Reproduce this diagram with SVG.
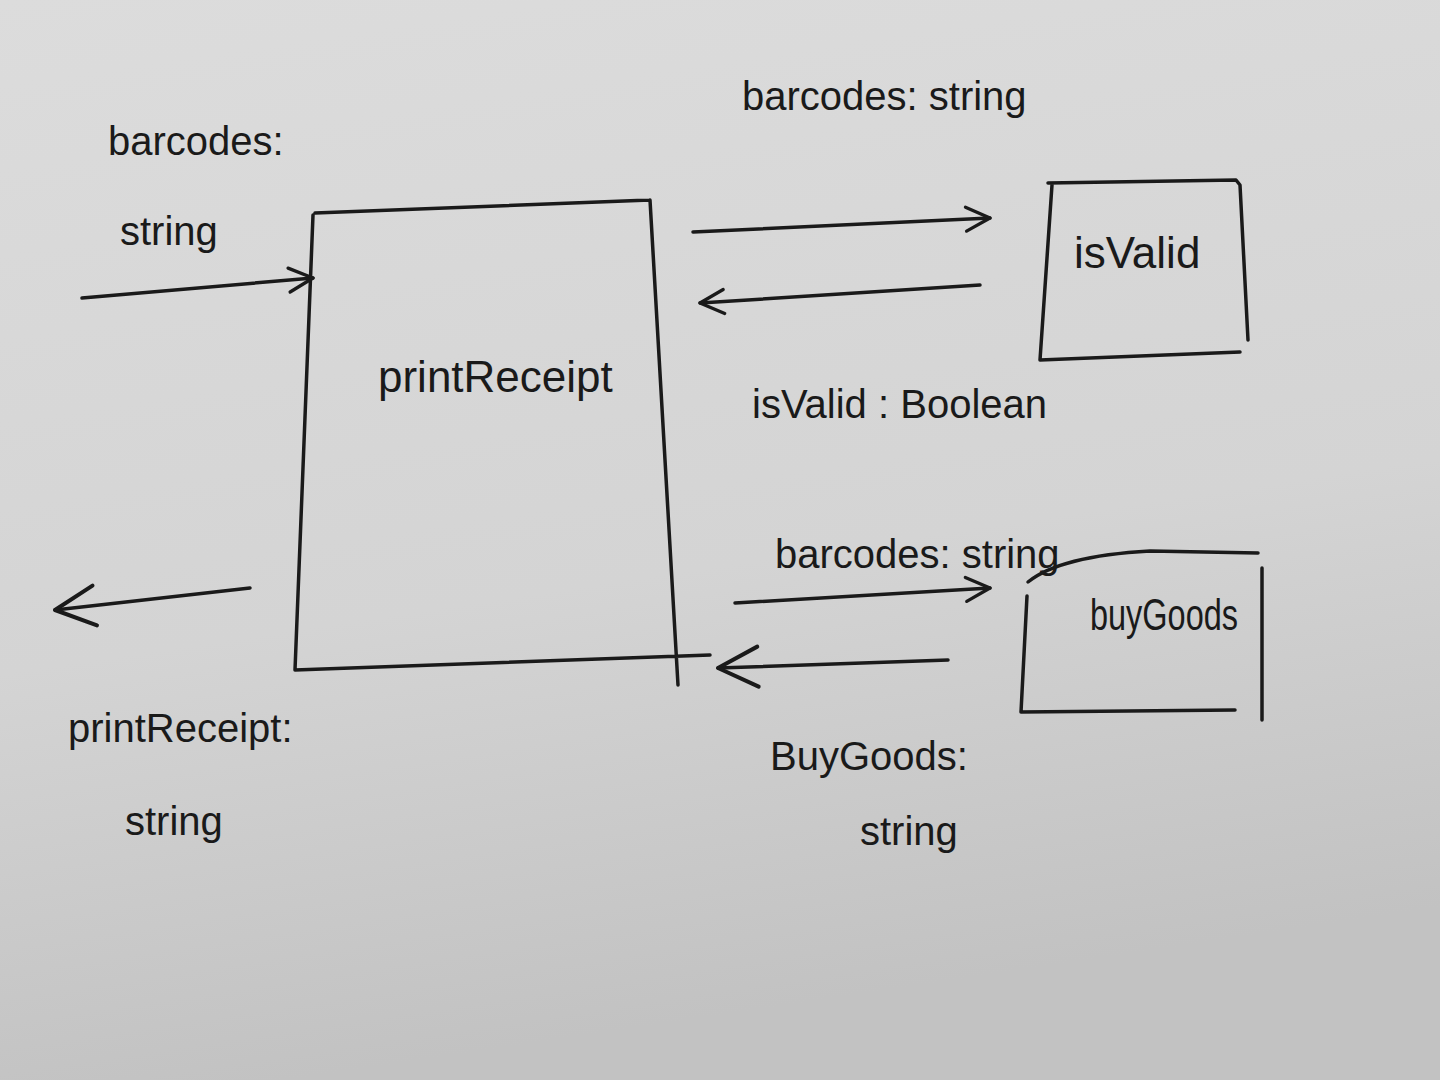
<svg xmlns="http://www.w3.org/2000/svg" width="1440" height="1080" viewBox="0 0 1440 1080">
<defs>
<linearGradient id="paper" x1="0" y1="0" x2="0.2" y2="1">
<stop offset="0" stop-color="#dcdcdc"/>
<stop offset="0.6" stop-color="#d4d4d4"/>
<stop offset="1" stop-color="#c2c2c2"/>
</linearGradient>
<marker id="open" viewBox="0 0 20 20" refX="18" refY="10" markerWidth="30" markerHeight="30" markerUnits="userSpaceOnUse" orient="auto">
<path d="M2,2 L18,10 L2,18" fill="none" stroke="#1a1a1a" stroke-width="2.2" stroke-linecap="round" stroke-linejoin="round"/>
</marker>
<marker id="openBig" viewBox="0 0 20 20" refX="18" refY="10" markerWidth="50" markerHeight="50" markerUnits="userSpaceOnUse" orient="auto">
<path d="M2,2 L18,10 L2,18" fill="none" stroke="#1a1a1a" stroke-width="1.6" stroke-linecap="round" stroke-linejoin="round"/>
</marker>
</defs>
<style>
.ln{fill:none;stroke:#1a1a1a;stroke-width:3.5;stroke-linecap:round;stroke-linejoin:round}
.t{font-family:"Liberation Sans","DejaVu Sans",sans-serif;fill:#1a1a1a}
.lbl{font-size:40px}
.nm{font-size:44px}
</style>
<rect x="0" y="0" width="1440" height="1080" fill="url(#paper)"/>

<g id="printReceipt">
<path class="ln" d="M315,213 L650,200 M313,215 L295,670 M650,200 L678,685 M295,670 L710,655"/>
<text class="t nm" x="378" y="392">printReceipt</text>
</g>

<g id="isValid">
<path class="ln" d="M1048,183 L1236,180 L1240,185 L1248,340 M1052,185 L1040,360 L1240,352"/>
<text class="t nm" x="1074" y="268">isValid</text>
</g>

<g id="buyGoods">
<path class="ln" d="M1028,582 Q1060,556 1150,551 L1258,553 M1262,568 L1262,720 M1027,596 L1021,712 L1235,710"/>
<text class="t nm" x="1090" y="630" font-size="34" textLength="148" lengthAdjust="spacingAndGlyphs">buyGoods</text>
</g>

<g id="connectors">
<path class="ln" d="M82,298 L313,278" marker-end="url(#open)"/>
<path class="ln" d="M250,588 L55,610" marker-end="url(#openBig)"/>
<path class="ln" d="M693,232 L990,218" marker-end="url(#open)"/>
<path class="ln" d="M980,285 L700,303" marker-end="url(#open)"/>
<path class="ln" d="M735,603 L990,588" marker-end="url(#open)"/>
<path class="ln" d="M948,660 L718,668" marker-end="url(#openBig)"/>
</g>

<g id="labels">
<text class="t lbl" x="108" y="155">barcodes:</text>
<text class="t lbl" x="120" y="245">string</text>
<text class="t lbl" x="742" y="110">barcodes: string</text>
<text class="t lbl" x="752" y="418">isValid : Boolean</text>
<text class="t lbl" x="775" y="568">barcodes: string</text>
<text class="t lbl" x="68" y="742">printReceipt:</text>
<text class="t lbl" x="125" y="835">string</text>
<text class="t lbl" x="770" y="770">BuyGoods:</text>
<text class="t lbl" x="860" y="845">string</text>
</g>
</svg>
